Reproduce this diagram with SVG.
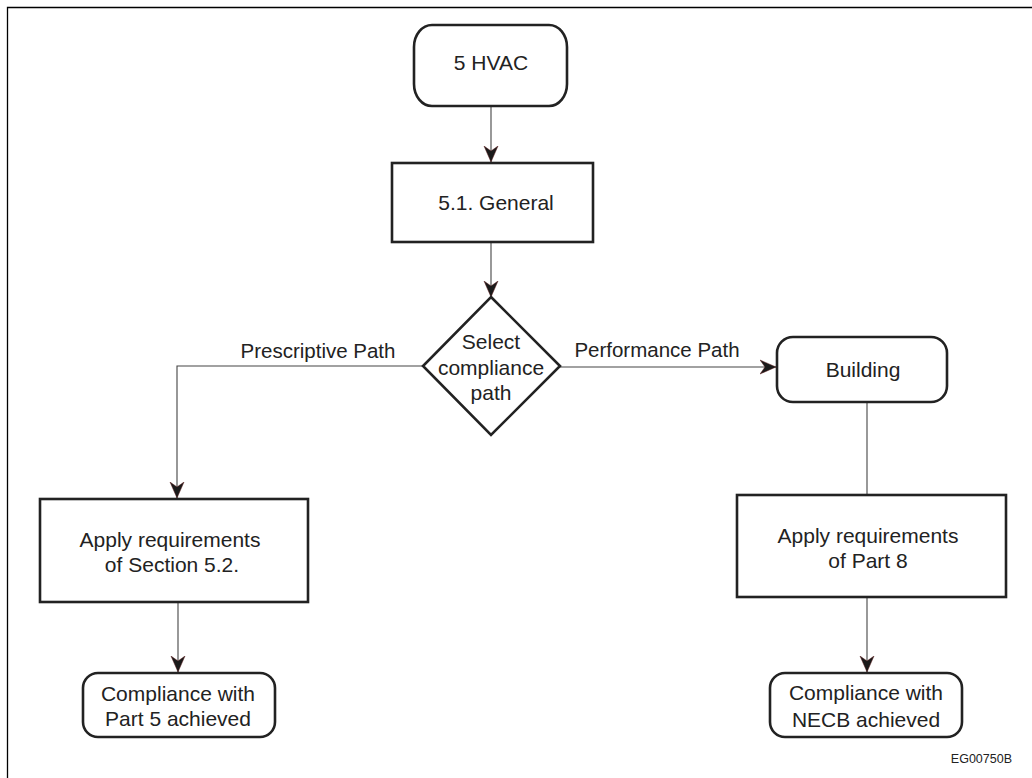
<svg xmlns="http://www.w3.org/2000/svg" width="1032" height="778" viewBox="0 0 1032 778">
<style>
.box{fill:#fff;stroke:#222;stroke-width:2.6}
.ln{fill:none;stroke:#444;stroke-width:1.1}
.t{font-family:"Liberation Sans",Arial,sans-serif;font-size:21px;fill:#222;text-anchor:middle}
.lbl{font-family:"Liberation Sans",Arial,sans-serif;font-size:20.5px;fill:#222;text-anchor:middle}
</style>
<defs>
<marker id="ah" viewBox="0 0 16 16" refX="16" refY="8" markerWidth="16" markerHeight="16" markerUnits="userSpaceOnUse" orient="auto">
<path d="M0,1 L16,8 L0,15 L5,8 Z" fill="#1a1a1a" stroke="#5a1a1a" stroke-width="0.5"/>
</marker>
</defs>
<rect width="1032" height="778" fill="#fff"/>
<path d="M7.5,778 V7.5 H1032" fill="none" stroke="#000" stroke-width="1.3"/>
<g id="connectors">
<path class="ln" d="M491,106 V162" marker-end="url(#ah)"/>
<path class="ln" d="M491,242 V297" marker-end="url(#ah)"/>
<path class="ln" d="M423,366 H177 V498" marker-end="url(#ah)"/>
<path class="ln" d="M560,367 H776" marker-end="url(#ah)"/>
<path class="ln" d="M867,402 V495"/>
<path class="ln" d="M178,602 V672" marker-end="url(#ah)"/>
<path class="ln" d="M867,597 V672" marker-end="url(#ah)"/>
<text class="lbl" x="318" y="358">Prescriptive Path</text>
<text class="lbl" x="657" y="357">Performance Path</text>
</g>
<g id="n-hvac">
<rect class="box" x="414" y="25" width="153" height="81" rx="18" ry="22"/>
<text class="t" x="491" y="70">5 HVAC</text>
</g>
<g id="n-general">
<rect class="box" x="392" y="163" width="201" height="79"/>
<text class="t" x="496" y="210">5.1. General</text>
</g>
<g id="n-select">
<polygon class="box" points="491,297 560,366 491,435 423,366"/>
<text class="t" x="491" y="349">Select</text>
<text class="t" x="491" y="375">compliance</text>
<text class="t" x="491" y="400">path</text>
</g>
<g id="n-building">
<rect class="box" x="777" y="337" width="170" height="65" rx="16"/>
<text class="t" x="863" y="377">Building</text>
</g>
<g id="n-section52">
<rect class="box" x="40" y="499" width="268" height="103"/>
<text class="t" x="170" y="547">Apply requirements</text>
<text class="t" x="172" y="572">of Section 5.2.</text>
</g>
<g id="n-part8">
<rect class="box" x="737" y="495" width="269" height="102"/>
<text class="t" x="868" y="543">Apply requirements</text>
<text class="t" x="868" y="568">of Part 8</text>
</g>
<g id="n-part5">
<rect class="box" x="83" y="673" width="192" height="64" rx="15"/>
<text class="t" x="178" y="701">Compliance with</text>
<text class="t" x="178" y="726">Part 5 achieved</text>
</g>
<g id="n-necb">
<rect class="box" x="770" y="673" width="192" height="64" rx="15"/>
<text class="t" x="866" y="700">Compliance with</text>
<text class="t" x="866" y="727">NECB achieved</text>
</g>
<text x="1012" y="763" font-family="'Liberation Sans',Arial,sans-serif" font-size="12.5" fill="#222" text-anchor="end">EG00750B</text>
</svg>
